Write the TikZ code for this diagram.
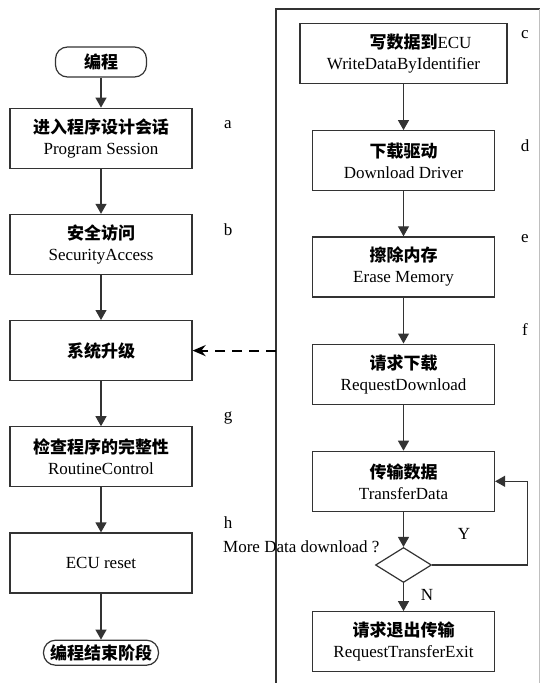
\documentclass[tikz,border=0pt]{standalone}
\usepackage{fontspec}
\setmainfont{Liberation Serif}
\newfontfamily\cjk{Noto Sans CJK SC}
\usepackage{tikz}
\usetikzlibrary{positioning,arrows.meta,shapes.geometric}

\begin{document}
\begin{tikzpicture}[x=1pt,y=-1pt,>={Triangle[length=10pt,width=11pt]},
  node distance=45pt,
  box/.style={draw=black!80,line width=1.2pt,minimum width=182pt,minimum height=60pt,
    align=center,font=\fontsize{17}{21}\selectfont},
  term/.style={draw=black!80,line width=1.2pt,rounded corners=12pt,inner sep=3pt,
    font=\fontsize{17}{21}\selectfont\cjk\bfseries},
  tag/.style={font=\fontsize{17}{21}\selectfont},
  arr/.style={->,line width=1.2pt,black!80}]
\useasboundingbox (0,0) rectangle (540,683);
% left column
\node (start) [term,minimum width=91pt,minimum height=30pt] at (101,62) {编程};
\node (a) [box,below=30pt of start] {{\cjk\bfseries 进入程序设计会话}\\Program Session};
\node (b) [box,below=of a] {{\cjk\bfseries 安全访问}\\SecurityAccess};
\node (sys) [box,below=of b] {{\cjk\bfseries 系统升级}};
\node (g) [box,below=of sys] {{\cjk\bfseries 检查程序的完整性}\\RoutineControl};
\node (rst) [box,below=of g] {ECU reset};
\node (stop) [term,minimum width=115pt,minimum height=25pt,below=46pt of rst] {编程结束阶段};
\draw[arr] (start) -- (a);
\draw[arr] (a) -- (b);
\draw[arr] (b) -- (sys);
\draw[arr] (sys) -- (g);
\draw[arr] (g) -- (rst);
\draw[arr] (rst) -- (stop);
% right frame
\coordinate (frm) at (276,9);
\draw[black!80,line width=1.2pt] (276,683) -- (frm) -- (540,9);
\draw[black!25,line width=0.8pt] (539,9) -- (539,683);
\coordinate (fl) at (sys.east -| frm);
\draw[line width=2.2pt,dash pattern=on 10pt off 7pt,-{Stealth[length=13pt,width=11pt]}] (fl) -- (sys.east);
% right column
\node (c) [box,minimum width=207pt] at (403.5,53.5) {\hspace*{2em}{\cjk\bfseries 写数据到}ECU\\WriteDataByIdentifier};
\node (d) [box,below=46pt of c] {{\cjk\bfseries 下载驱动}\\Download Driver};
\node (e) [box,below=of d] {{\cjk\bfseries 擦除内存}\\Erase Memory};
\node (f) [box,below=46pt of e] {{\cjk\bfseries 请求下载}\\RequestDownload};
\node (td) [box,below=46pt of f] {{\cjk\bfseries 传输数据}\\TransferData};
\node (dia) [draw=black!80,line width=1.2pt,diamond,inner sep=0pt,minimum width=56pt,
  minimum height=35pt,below=35pt of td] {};
\node (ex) [box,below=28pt of dia] {{\cjk\bfseries 请求退出传输}\\RequestTransferExit};
\draw[arr] (c) -- (d);
\draw[arr] (d) -- (e);
\draw[arr] (e) -- (f);
\draw[arr] (f) -- (td);
\draw[arr] (td) -- (dia);
\draw[arr] (dia) -- (ex);
\draw[arr] (dia.east) -- ++(95,0) |- (td.east);
\node (q) [tag,anchor=east] at (383,547) {More Data download ?};
\node (ly) [tag] at (464,534) {Y};
\node (ln) [tag] at (427,595) {N};
% step letters
\node (la) [tag] at (228,125) {a};
\node (lb) [tag] at (228,230) {b};
\node (lc) [tag] at (525,35) {c};
\node (ld) [tag] at (525,146) {d};
\node (le) [tag] at (525,239) {e};
\node (lf) [tag] at (525,330) {f};
\node (lg) [tag] at (228,418) {g};
\node (lh) [tag] at (228,523) {h};
\end{tikzpicture}
\end{document}
